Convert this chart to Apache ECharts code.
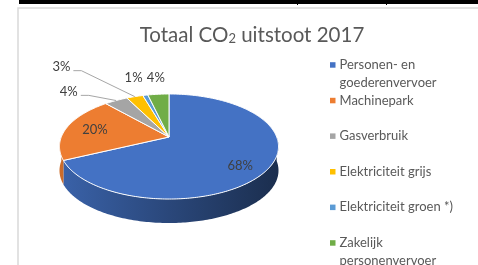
<!DOCTYPE html>
<html>
<head>
<meta charset="utf-8">
<script src="https://cdn.jsdelivr.net/npm/echarts@6/dist/echarts.min.js"></script>
<style>
  html, body { margin: 0; padding: 0; background: #fff; }
  #chart { width: 478px; height: 265px; }
</style>
</head>
<body>
<div id="chart"></div>
<script>
// data
var categories = [
  "Personen- en goederenvervoer",
  "Machinepark",
  "Gasverbruik",
  "Elektriciteit grijs",
  "Elektriciteit groen *)",
  "Zakelijk personenvervoer"
];
var values = [68, 20.4, 4.1, 2.9, 0.9, 3.7];
var legendLines = [
  "Personen- en\ngoederenvervoer",
  "Machinepark\n ",
  "Gasverbruik\n ",
  "Elektriciteit grijs\n ",
  "Elektriciteit groen *)\n ",
  "Zakelijk\npersonenvervoer"
];
var colors = ["#4472c4", "#ed7d31", "#a5a5a5", "#ffc000", "#5b9bd5", "#70ad47"];

// 3d pie look (perspective ellipse)
var pie = { cx: 169, cy: 137, A: 50.8, B: 107.7, p: 0.181, depth: 24 };
var labelRadius = [0.7, 0.7, 1.3, 1.3, 1.3, 1.3];
var labelShift = [[3, 8], [-2, 0], [-34, 0], [-65, -20], [-6, -7], [0, -6]];
var hasLeader = [false, false, true, true, false, false];

var total = values.reduce(function (a, b) { return a + b; }, 0);
var starts = [];
var acc = 0;
values.forEach(function (v) { starts.push(acc); acc += v; });

function rim(deg, r) {
  var t = deg * Math.PI / 180;
  var u = r * Math.sin(t), w = r * Math.cos(t);
  var d = 1 + pie.p * w;
  return [pie.cx + pie.B * u / d, pie.cy - pie.A * w / d];
}

function shade(hex, f) {
  var n = parseInt(hex.slice(1), 16);
  var r = Math.round(((n >> 16) & 255) * f);
  var g = Math.round(((n >> 8) & 255) * f);
  var b = Math.round((n & 255) * f);
  return "rgb(" + r + "," + g + "," + b + ")";
}

function arc(a, b, r, dy) {
  var pts = [];
  var n = Math.max(2, Math.ceil((b - a) / 1));
  for (var k = 0; k <= n; k++) {
    var pt = rim(a + (b - a) * k / n, r);
    pts.push([pt[0], pt[1] + dy]);
  }
  return pts;
}

function renderItem(params, api) {
  var i = params.dataIndex;
  var v = api.value(0);
  var a = starts[i] / total * 360;
  var b = (starts[i] + v) / total * 360;
  var children = [];

  // side wall, only the front half shows
  var lo = Math.max(a, 90), hi = Math.min(b, 270);
  if (lo < hi) {
    var top = arc(lo, hi, 1, 0);
    var bottom = arc(lo, hi, 1, pie.depth).reverse();
    children.push({
      type: "polygon",
      z2: 1,
      shape: { points: top.concat(bottom) },
      style: {
        fill: {
          type: "linear", x: 60, y: 0, x2: 279, y2: 0, global: true,
          colorStops: [
            { offset: 0, color: shade(colors[i], 0.86) },
            { offset: 0.5, color: shade(colors[i], 0.62) },
            { offset: 1, color: shade(colors[i], 0.4) }
          ]
        }
      }
    });
  }

  // top face
  children.push({
    type: "polygon",
    z2: 2,
    shape: { points: [[pie.cx, pie.cy]].concat(arc(a, b, 1, 0)) },
    style: { fill: colors[i], stroke: "#fff", lineWidth: 1, lineJoin: "round" }
  });

  // label
  var mid = (a + b) / 2;
  var lp = rim(mid, labelRadius[i]);
  var lx = lp[0] + labelShift[i][0];
  var ly = lp[1] + labelShift[i][1];
  children.push({
    type: "text",
    z2: 4,
    x: lx,
    y: ly,
    style: {
      text: Math.round(v / total * 100) + "%",
      fill: "#404040",
      fontSize: 13,
      fontFamily: "Lato",
      align: "center",
      verticalAlign: "middle"
    }
  });

  if (hasLeader[i]) {
    var m = rim(mid, 1);
    children.push({
      type: "polyline",
      z2: 3,
      shape: { points: [[lx + 12, ly + 4], [lx + 20, ly + 4], m] },
      style: { stroke: "#a6a6a6", lineWidth: 1, fill: null }
    });
  }

  return { type: "group", children: children };
}

var myChart = echarts.init(document.getElementById("chart"));

var option = {
  animation: false,
  color: colors,
  backgroundColor: "#fff",
  title: {
    text: "{a|Totaal CO}{s|2}{a| uitstoot 2017}",
    left: 247,
    top: 20,
    textAlign: "center",
    textStyle: {
      fontWeight: "normal",
      rich: {
        a: { fontSize: 20.5, fontFamily: "Lato", fontWeight: "normal", color: "#595959" },
        s: { fontSize: 13, fontFamily: "Lato", fontWeight: "normal", color: "#595959", verticalAlign: "bottom", padding: [0, 0, 1, 0] }
      }
    }
  },
  graphic: [
    { type: "rect", shape: { x: 18, y: 8, width: 500, height: 300 }, style: { fill: "#fff", stroke: "#d9d9d9", lineWidth: 1.5 }, z: -10 },
    { type: "rect", shape: { x: 19, y: 0, width: 460, height: 4 }, style: { fill: "#000" } },
    { type: "rect", shape: { x: 297, y: 0, width: 1, height: 5 }, style: { fill: "#000" } },
    { type: "rect", shape: { x: 386, y: 0, width: 1, height: 5 }, style: { fill: "#000" } }
  ],
  legend: {
    orient: "vertical",
    left: 330,
    top: 56,
    height: 400,
    padding: 0,
    itemGap: 0,
    itemWidth: 5.5,
    itemHeight: 35.6,
    selectedMode: false,
    icon: "path://M0,0M0,6.2h5.5v5.5h-5.5zM5.5,35.6",
    itemStyle: { borderWidth: 0 },
    data: categories,
    formatter: function (name) {
      return legendLines[categories.indexOf(name)];
    },
    textStyle: { fontSize: 13, fontFamily: "Lato", color: "#595959", lineHeight: 17.8, padding: [0, 0, 0, -1] }
  },
  series: [
    {
      // only feeds the legend
      type: "pie",
      radius: 0,
      silent: true,
      label: { show: false },
      labelLine: { show: false },
      itemStyle: { borderWidth: 0 },
      data: categories.map(function (c, i) {
        return { name: c, value: values[i] };
      })
    },
    {
      type: "custom",
      coordinateSystem: "none",
      silent: true,
      renderItem: renderItem,
      data: values
    }
  ]
};

myChart.setOption(option);
</script>
</body>
</html>
